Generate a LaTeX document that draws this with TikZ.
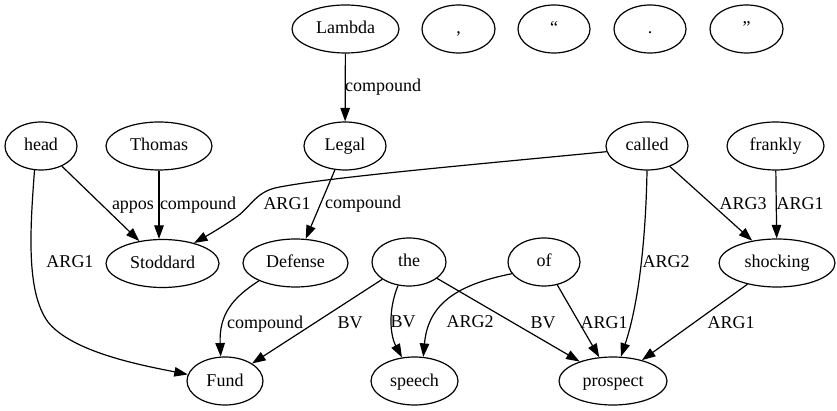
\documentclass[tikz,border=0pt]{standalone}
\usepackage{fontspec}
\setmainfont{Liberation Serif}
\usetikzlibrary{shapes.geometric,arrows.meta}
\begin{document}
\begin{tikzpicture}[x=1pt,y=-1pt,
  font=\fontsize{18}{21}\selectfont,
  every node/.style={text height=14pt, text depth=4pt},
  gv/.style={draw, ellipse, line width=1.2pt, inner sep=0pt, minimum height=48pt},
  edge/.style={draw, line width=1.2pt, -{Triangle[length=13.5pt,width=9.5pt]}},
  lbl/.style={inner sep=0pt}]
\useasboundingbox (0,0) rectangle (837,411);
% nodes
\node[gv, minimum width=107pt] (lambda) at (345.5,29) {Lambda};
\node[gv, minimum width=73pt] (comma) at (458.5,29) {,};
\node[gv, minimum width=72pt] (lquote) at (554,29) {“};
\node[gv, minimum width=72pt] (period) at (650,29) {.};
\node[gv, minimum width=73pt] (rquote) at (746.5,29) {”};
\node[gv, minimum width=72pt] (head) at (41,146) {head};
\node[gv, minimum width=106pt] (thomas) at (159,146) {Thomas};
\node[gv, minimum width=82pt] (legal) at (345,146) {Legal};
\node[gv, minimum width=82pt] (called) at (647,146) {called};
\node[gv, minimum width=97pt] (frankly) at (775.5,146) {frankly};
\node[gv, minimum width=113pt] (stoddard) at (162.5,263.5) {Stoddard};
\node[gv, minimum width=105pt] (defense) at (295.5,263) {Defense};
\node[gv, minimum width=74pt] (the) at (409,262) {the};
\node[gv, minimum width=72pt] (of) at (544,262) {of};
\node[gv, minimum width=116pt] (shocking) at (777,263) {shocking};
\node[gv, minimum width=76pt] (fund) at (225,381) {Fund};
\node[gv, minimum width=87pt] (speech) at (414.5,381) {speech};
\node[gv, minimum width=108pt] (prospect) at (613,381) {prospect};
% edges
\path[edge] (lambda) -- (legal) node[lbl] at (383,87) {compound};
\path[edge] (head) -- (stoddard) node[lbl] at (133,205) {appos};
\path[edge] (thomas.south) -- (thomas.south |- stoddard.north) node[lbl] at (198,205) {compound};
\path[edge] (called.188) .. controls (480,164) and (320,178) .. (275,188)
   .. controls (255,193) and (250,208) .. (235,218)
   .. controls (222,227) and (210,234) .. (stoddard.33)
   node[lbl] at (287,205) {ARG1};
\path[edge] (legal) -- (defense) node[lbl] at (363,204) {compound};
\path[edge] (called.south) .. controls (646,230) and (640,300) .. (prospect.72)
   node[lbl] at (666,263) {ARG2};
\path[edge] (called) -- (shocking) node[lbl] at (743,205) {ARG3};
\path[edge] (frankly) -- (shocking) node[lbl] at (800,205) {ARG1};
\path[edge] (head.255) .. controls (30,230) and (26,292) .. (48,322)
   .. controls (72,352) and (140,365) .. (fund.170)
   node[lbl] at (70,263) {ARG1};
\path[edge] (defense.206) .. controls (232,298) and (219,315) .. (fund.100)
   node[lbl] at (265,323) {compound};
\path[edge] (the) -- (fund) node[lbl] at (350,323) {BV};
\path[edge] (the.245) .. controls (388,310) and (390,335) .. (speech.118)
   node[lbl] at (403,322) {BV};
\path[edge] (of.200) .. controls (455,285) and (428,305) .. (speech.70)
   node[lbl] at (470,322) {ARG2};
\path[edge] (the) -- (prospect) node[lbl] at (543,323) {BV};
\path[edge] (of) -- (prospect) node[lbl] at (604,323) {ARG1};
\path[edge] (shocking) -- (prospect) node[lbl] at (731,323) {ARG1};
\end{tikzpicture}
\end{document}
